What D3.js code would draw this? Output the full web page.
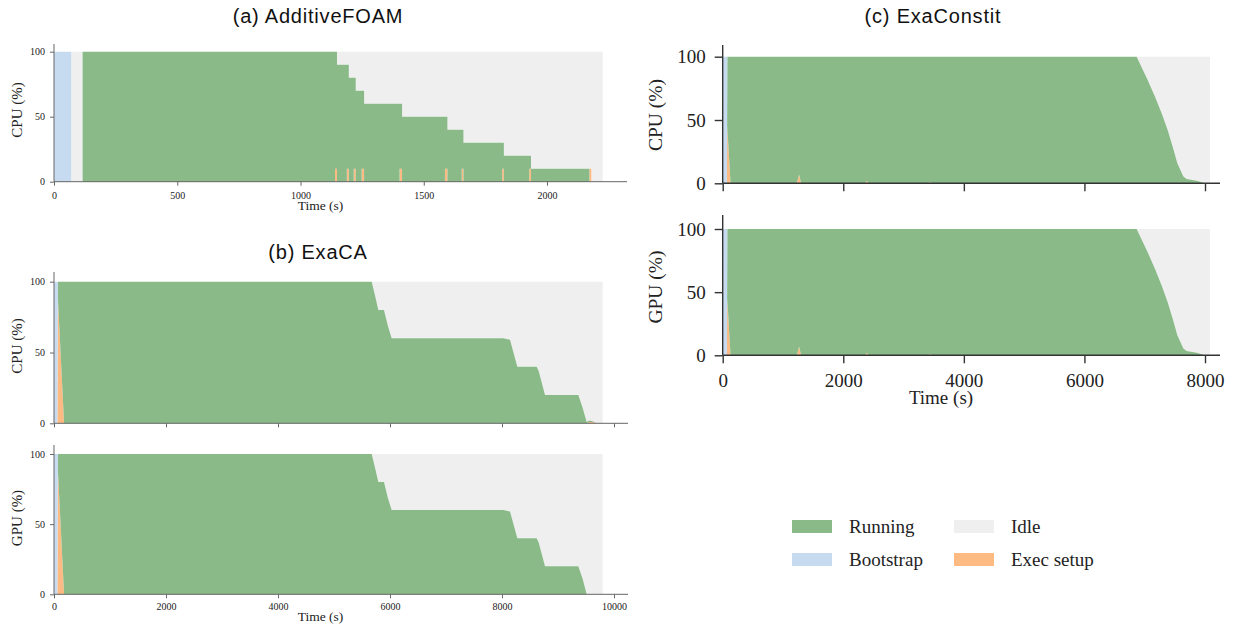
<!DOCTYPE html>
<html>
<head>
<meta charset="utf-8">
<script src="https://cdn.jsdelivr.net/npm/d3@7"></script>
<style>
  body { margin: 0; background: #fff; }
</style>
</head>
<body>
<script>
// (a) AdditiveFOAM, CPU only, step-shaped
const aTime    = [0, 70, 116, 1140, 1148, 1188, 1196, 1216, 1224, 1248, 1258, 1402, 1412, 1586, 1596, 1654, 1661, 1818, 1825, 1928, 1935, 2172, 2180, 2226];
const aBoot    = [100, 0, 0, 0, 0, 0, 0, 0, 0, 0, 0, 0, 0, 0, 0, 0, 0, 0, 0, 0, 0, 0, 0, 0];
const aSetup   = [0, 0, 0, 10, 0, 10, 0, 10, 0, 10, 0, 10, 0, 10, 0, 10, 0, 10, 0, 10, 0, 10, 0, 0];
const aRunning = [0, 0, 100, 90, 90, 80, 80, 70, 70, 60, 60, 50, 50, 40, 40, 30, 30, 20, 20, 10, 10, 0, 0, 0];

// (b) ExaCA, CPU and GPU
const bTime       = [0, 60, 70, 180, 5673, 5740, 5792, 5893, 5960, 6030, 8024, 8143, 8274, 8619, 8655, 8768, 9363, 9440, 9512, 9560, 9620, 9690, 9798];
const bBoot       = [100, 100, 0, 0, 0, 0, 0, 0, 0, 0, 0, 0, 0, 0, 0, 0, 0, 0, 0, 0, 0, 0, 0];
const bCpuSetup   = [0, 0, 88, 0, 0, 0, 0, 0, 0, 0, 0, 0, 0, 0, 0, 0, 0, 0, 0, 1, 1, 0, 0];
const bCpuRunning = [0, 0, 12, 100, 100, 89, 80, 80, 69, 60, 60, 59, 40, 40, 37, 20, 20, 11, 1, 1, 0.5, 0, 0];
const bGpuSetup   = [0, 0, 88, 0, 0, 0, 0, 0, 0, 0, 0, 0, 0, 0, 0, 0, 0, 0, 0, 0, 0, 0, 0];
const bGpuRunning = [0, 0, 12, 100, 100, 89, 80, 80, 69, 60, 60, 59, 40, 40, 37, 20, 20, 11, 0, 0, 0, 0, 0];

// (c) ExaConstit, CPU and GPU
const cTime       = [0, 70, 76, 130, 1230, 1268, 1300, 2360, 2390, 2420, 3410, 3440, 3470, 6866, 7049, 7171, 7281, 7381, 7464, 7541, 7641, 7696, 7862, 7945, 7990, 8083];
const cBoot       = [100, 100, 0, 0, 0, 0, 0, 0, 0, 0, 0, 0, 0, 0, 0, 0, 0, 0, 0, 0, 0, 0, 0, 0, 0, 0];
const cSetup      = [0, 0, 45, 0, 0, 7, 0, 0, 2, 0, 0, 1, 0, 0, 0, 0, 0, 0, 0, 0, 0, 0, 0, 0, 0, 0];
const cCpuRunning = [0, 0, 55, 100, 100, 93, 100, 100, 98, 100, 100, 99, 100, 100, 81.6, 68.4, 55.3, 42.1, 28.9, 15.8, 5.3, 3.4, 2.1, 0.8, 0, 0];
const cGpuRunning = [0, 0, 55, 100, 100, 93, 100, 100, 98, 100, 100, 99, 100, 100, 81.6, 68.4, 55.3, 42.1, 28.9, 15.8, 5.3, 3.4, 2.1, 0.8, 0, 0];

const legendLabels = ["Running", "Idle", "Bootstrap", "Exec setup"];
const legendKeys   = ["running", "idle", "boot", "setup"];

const colors = { running: "#89ba88", idle: "#efefef", boot: "#c6dbef", setup: "#fdba82" };

const svg = d3.select("body").append("svg")
  .attr("width", 1234)
  .attr("height", 626);

function drawPanel(p) {
  const x = d3.scaleLinear().domain([0, p.xTickMax]).range([p.left, p.xTickPx]);
  const y = d3.scaleLinear().domain([0, 100]).range([p.bottom, p.y100]);
  const curve = p.step ? d3.curveStepAfter : d3.curveLinear;

  const rows = p.time.map((t, i) => ({ t: t, setup: p.setup[i], running: p.running[i], boot: p.boot[i] }));
  const layers = d3.stack().keys(["setup", "running", "boot"])(rows);

  // idle fills whatever is left up to 100%
  svg.append("path")
    .datum(rows)
    .attr("fill", colors.idle)
    .attr("d", d3.area().curve(curve)
      .x(d => x(d.t))
      .y0(d => y(d.setup + d.running + d.boot))
      .y1(y(100)));

  svg.append("g").selectAll("path")
    .data(layers)
    .enter()
    .append("path")
    .attr("fill", d => colors[d.key])
    .attr("d", d3.area().curve(curve)
      .x(d => x(d.data.t))
      .y0(d => y(d[0]))
      .y1(d => y(d[1])));

  // axes
  const yAxis = d3.axisLeft(y).tickValues([0, 50, 100]).tickSize(p.tick).tickPadding(p.ypad);
  const gy = svg.append("g").attr("transform", `translate(${p.left},0)`).call(yAxis);

  const xAxis = d3.axisBottom(x).tickValues(p.xTicks).tickSize(p.tick).tickPadding(p.xpad)
    .tickFormat(p.xLabels ? d3.format("d") : "");
  const gx = svg.append("g").attr("transform", `translate(0,${p.bottom})`).call(xAxis);

  [gx, gy].forEach(g => {
    g.select(".domain").remove();
    g.selectAll(".tick line").attr("stroke", p.spine).attr("stroke-width", p.spineW);
    g.selectAll(".tick text")
      .style("font-family", "'Liberation Serif', serif")
      .style("font-size", p.tickFont + "px")
      .attr("fill", "#222");
  });

  // left and bottom spines only
  svg.append("line")
    .attr("x1", p.left).attr("x2", p.left)
    .attr("y1", p.bottom).attr("y2", p.top)
    .attr("stroke", p.spine).attr("stroke-width", p.spineW);
  svg.append("line")
    .attr("x1", p.left).attr("x2", p.right)
    .attr("y1", p.bottom).attr("y2", p.bottom)
    .attr("stroke", p.spine).attr("stroke-width", p.spineW);

  // y label
  svg.append("text")
    .attr("transform", "rotate(-90)")
    .attr("x", -p.ylabelY)
    .attr("y", p.ylabelX)
    .attr("dy", "0.35em")
    .attr("text-anchor", "middle")
    .style("font-family", "'Liberation Serif', serif")
    .style("font-size", p.labelFont + "px")
    .attr("fill", "#222")
    .text(p.ylabel);

  if (p.xlabel) {
    svg.append("text")
      .attr("x", p.xlabelX)
      .attr("y", p.xlabelY)
      .attr("text-anchor", "middle")
      .style("font-family", "'Liberation Serif', serif")
      .style("font-size", p.xlabelFont + "px")
      .attr("fill", "#222")
      .text("Time (s)");
  }
}

const smallStyle = { tick: 4, ypad: 5, xpad: 6, tickFont: 10, labelFont: 15, xlabelFont: 13.5, spine: "#666", spineW: 1 };
const bigStyle   = { tick: 8, ypad: 9, xpad: 10, tickFont: 19, labelFont: 19.5, xlabelFont: 19, spine: "#333", spineW: 1.4 };

// (a)
drawPanel(Object.assign({}, smallStyle, {
  time: aTime, boot: aBoot, setup: aSetup, running: aRunning, step: true,
  left: 54, xTickMax: 2000, xTickPx: 547, right: 627,
  bottom: 181.7, y100: 51.7, top: 44,
  xTicks: [0, 500, 1000, 1500, 2000], xLabels: true,
  ylabel: "CPU (%)", ylabelX: 16.7, ylabelY: 110,
  xlabel: true, xlabelX: 320.5, xlabelY: 210
}));

// (b) CPU
drawPanel(Object.assign({}, smallStyle, {
  time: bTime, boot: bBoot, setup: bCpuSetup, running: bCpuRunning, step: false,
  left: 54, xTickMax: 10000, xTickPx: 614, right: 628,
  bottom: 423.3, y100: 281.7, top: 272,
  xTicks: [0, 2000, 4000, 6000, 8000, 10000], xLabels: false,
  ylabel: "CPU (%)", ylabelX: 16.7, ylabelY: 346,
  xlabel: false
}));

// (b) GPU
drawPanel(Object.assign({}, smallStyle, {
  time: bTime, boot: bBoot, setup: bGpuSetup, running: bGpuRunning, step: false,
  left: 54, xTickMax: 10000, xTickPx: 614, right: 628,
  bottom: 594.3, y100: 454, top: 445,
  xTicks: [0, 2000, 4000, 6000, 8000, 10000], xLabels: true, xpad: 5,
  ylabel: "GPU (%)", ylabelX: 16.7, ylabelY: 518,
  xlabel: true, xlabelX: 320.5, xlabelY: 621
}));

// (c) CPU
drawPanel(Object.assign({}, bigStyle, {
  time: cTime, boot: cBoot, setup: cSetup, running: cCpuRunning, step: false,
  left: 722.7, xTickMax: 8000, xTickPx: 1205, right: 1220,
  bottom: 183.3, y100: 56.7, top: 45,
  xTicks: [0, 2000, 4000, 6000, 8000], xLabels: false,
  ylabel: "CPU (%)", ylabelX: 655, ylabelY: 115,
  xlabel: false
}));

// (c) GPU
drawPanel(Object.assign({}, bigStyle, {
  time: cTime, boot: cBoot, setup: cSetup, running: cGpuRunning, step: false,
  left: 722.7, xTickMax: 8000, xTickPx: 1205, right: 1220,
  bottom: 355.3, y100: 229, top: 215,
  xTicks: [0, 2000, 4000, 6000, 8000], xLabels: true,
  ylabel: "GPU (%)", ylabelX: 655, ylabelY: 287,
  xlabel: true, xlabelX: 941, xlabelY: 404
}));

// panel titles
const titles = [
  { text: "(a) AdditiveFOAM", x: 318, y: 22.5 },
  { text: "(b) ExaCA", x: 318, y: 259 },
  { text: "(c) ExaConstit", x: 933, y: 22.5 }
];
svg.selectAll(".title")
  .data(titles)
  .enter()
  .append("text")
  .attr("class", "title")
  .attr("x", d => d.x)
  .attr("y", d => d.y)
  .attr("text-anchor", "middle")
  .style("font-family", "'Liberation Sans', Arial, sans-serif")
  .style("font-size", "20px")
  .style("letter-spacing", "0.8px")
  .attr("fill", "#111")
  .text(d => d.text);

// legend, two columns
const legend = svg.append("g");
legendLabels.forEach((label, i) => {
  const col = i % 2, row = Math.floor(i / 2);
  const lx = 792 + col * 162, ly = 520 + row * 33;
  legend.append("rect")
    .attr("x", lx).attr("y", ly)
    .attr("width", 40).attr("height", 13)
    .attr("fill", colors[legendKeys[i]]);
  legend.append("text")
    .attr("x", lx + 57).attr("y", ly + 13.3)
    .style("font-family", "'Liberation Serif', serif")
    .style("font-size", "19px")
    .attr("fill", "#222")
    .text(label);
});
</script>
</body>
</html>
